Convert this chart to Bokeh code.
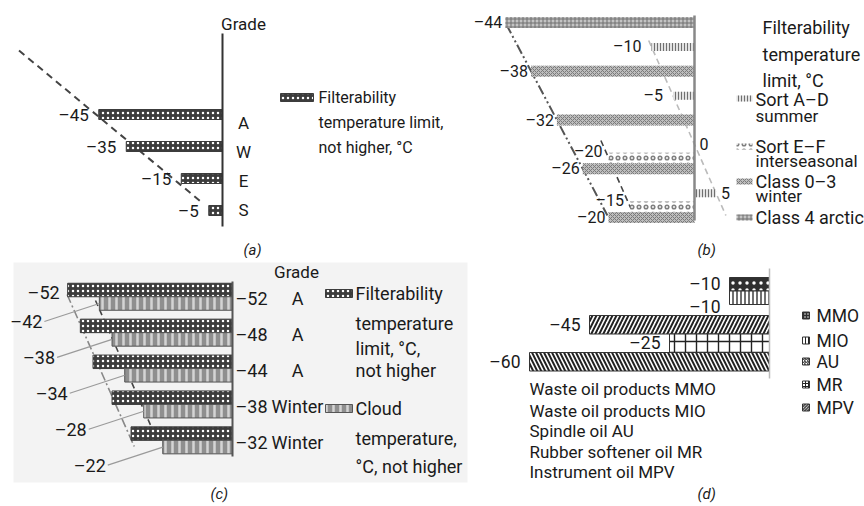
import numpy as np
from bokeh.plotting import figure
from bokeh.layouts import column, row
from bokeh.models import Range1d
from bokeh.core.properties import value
from bokeh.embed import file_html
from bokeh.resources import INLINE

FONT = "Roboto"
INK = "#1a1a1a"

# ---------------- data ----------------
# (a) filterability limit by grade
a_grades = ["A", "W", "E", "S"]
a_filter = [-45, -35, -15, -5]

# (b) filterability limit by fuel sort / class
b_arctic = [-44]
b_winter = [-38, -32, -26, -20]
b_summer = [-10, -5, 0, 5]
b_interseasonal = [-20, -15]

# (c) filterability and cloud temperatures
c_grades = ["A", "A", "A", "Winter", "Winter"]
c_filter = [-52, -48, -44, -38, -32]
c_cloud = [-42, -38, -34, -28, -22]

# (d) oil products
d_codes = ["MMO", "MIO", "AU", "MR", "MPV"]
d_names = ["Waste oil products MMO", "Waste oil products MIO", "Spindle oil AU",
           "Rubber softener oil MR", "Instrument oil MPV"]
d_filter = [-10, -10, -45, -25, -60]


def fmt(v):
    return f"\u2013{abs(v)}" if v < 0 else f"{v}"


def panel(width, height, axis_px, scale):
    p = figure(width=width, height=height,
               x_range=Range1d(-axis_px / scale, (width - axis_px) / scale),
               y_range=Range1d(height, 0),
               output_backend="svg", toolbar_location=None, title=None,
               x_axis_location=None, y_axis_location=None, min_border=0)
    p.grid.visible = False
    p.outline_line_color = None
    p.background_fill_color = "white"
    p.border_fill_color = "white"

    def to_x(px):
        return (px - axis_px) / scale
    return p, to_x


def text(p, xs, ys, labels, size=17, align="left", baseline="middle",
         color=INK, style="normal", x_offset=0, y_offset=0):
    p.text(x=list(xs), y=list(ys), text=list(labels),
           text_font=value(FONT), text_font_size=f"{size}px",
           text_align=align, text_baseline=baseline, text_color=color,
           text_font_style=style, x_offset=x_offset, y_offset=y_offset)


def trend(p, ys, vals, y_from, y_to, **kw):
    k, b0 = np.polyfit(ys, vals, 1)
    yy = np.array([y_from, y_to], dtype=float)
    p.line(k * yy + b0, yy, **kw)


CHECKER = dict(fill_color="#3c3c3c", hatch_pattern="dot", hatch_color="white",
               hatch_scale=5, hatch_weight=4, line_color="#3c3c3c")
CLOUD = dict(fill_color="#8f8f8f", hatch_pattern="vertical_line", hatch_color="#d4d4d4",
             hatch_scale=7, hatch_weight=2.5, line_color="#555555")

# ---------------- (a) ----------------
pa, XA = panel(460, 258, 222, 2.75)
a_y = [114 + 32 * i for i in range(len(a_filter))]
trend(pa, a_y, a_filter, 50, 203, line_color="#444444", line_width=2, line_dash="7 5")
pa.hbar(y=a_y, left=a_filter, right=0, height=10, **CHECKER)
pa.segment(x0=[0], y0=[33], x1=[0], y1=[226], line_color="#333333", line_width=2)
text(pa, a_filter, a_y, [fmt(v) for v in a_filter], align="right", x_offset=-10)
text(pa, [XA(243)] * 4, [122 + 29 * i for i in range(4)], a_grades, align="center")
text(pa, [XA(243)], [23], ["Grade"], align="center")
pa.quad(left=[XA(280)], right=[XA(313)], top=[93], bottom=[101], **CHECKER)
text(pa, [XA(318)] * 3, [97, 122, 147],
     ["Filterability", "temperature limit,", "not higher, \u00b0C"], size=16)
text(pa, [XA(243)], [249], ["(a)"], style="italic", size=15)

# ---------------- (b) ----------------
pb, XB = panel(404, 258, 234, 4.3)
R, TOP = 48.75, 22
y_arctic = [TOP]
y_winter = [TOP + R * (k + 1) for k in range(len(b_winter))]
y_summer = [TOP + R * (k + 0.5) for k in range(len(b_summer))]
y_inter = [TOP + R * k - 11 for k in (3, 4)]

trend(pb, y_arctic + y_winter, b_arctic + b_winter, 24, 215,
      line_color="#555555", line_width=2, line_dash="10 3 2 3 2 3")
trend(pb, y_inter, b_interseasonal, 140, 213,
      line_color="#444444", line_width=1.6, line_dash="6 4")
trend(pb, y_summer, b_summer, 40, 215,
      line_color="#bbbbbb", line_width=1.6, line_dash="6 4")

S_ARCTIC = dict(fill_color="#c4c4c4", hatch_pattern="cross", hatch_color="#707070",
                hatch_scale=4, hatch_weight=1, line_color=None)
S_WINTER = dict(fill_color="#bdbdbd", hatch_pattern="diagonal_cross", hatch_color="#7a7a7a",
                hatch_scale=4, hatch_weight=1, line_color=None)
S_SUMMER = dict(fill_color="#e2e2e2", hatch_pattern="vertical_line", hatch_color="#707070",
                hatch_scale=3, hatch_weight=1, line_color=None)
S_INTER = dict(fill_color="white", hatch_pattern="ring", hatch_color="#808080",
               hatch_scale=7, hatch_weight=1.6, line_color=None)

pb.hbar(y=y_arctic, left=b_arctic, right=0, height=11, **S_ARCTIC)
pb.hbar(y=y_winter, left=b_winter, right=0, height=11, **S_WINTER)
pb.hbar(y=y_summer, left=b_summer, right=0, height=8, **S_SUMMER)
pb.hbar(y=y_inter, left=b_interseasonal, right=0, height=10, **S_INTER)
pb.segment(x0=[0], y0=[15], x1=[0], y1=[220], line_color="#888888", line_width=2.5)

text(pb, b_arctic + b_winter, y_arctic + y_winter,
     [fmt(v) for v in b_arctic + b_winter], align="right", x_offset=-3, size=16)
text(pb, b_interseasonal, y_inter, [fmt(v) for v in b_interseasonal],
     align="right", x_offset=-6, y_offset=-6, size=16)
neg = [(v, y) for v, y in zip(b_summer, y_summer) if v < 0]
pos = [(v, y) for v, y in zip(b_summer, y_summer) if v >= 0]
text(pb, [v for v, _ in neg], [y for _, y in neg], [fmt(v) for v, _ in neg],
     align="right", x_offset=-10, size=16)
text(pb, [v for v, _ in pos], [y for _, y in pos], [fmt(v) for v, _ in pos],
     align="left", x_offset=5, size=16)

text(pb, [XB(302)] * 3, [27, 54, 80], ["Filterability", "temperature", "limit, \u00b0C"],
     size=18)
leg_y = [98, 146, 181, 217]
for st, yy in zip([S_SUMMER, S_INTER, S_WINTER, S_ARCTIC], leg_y):
    pb.quad(left=[XB(276)], right=[XB(292)], top=[yy - 3], bottom=[yy + 3], **st)
text(pb, [XB(295)] * 4, [99, 146, 181, 217],
     ["Sort A\u2013D", "Sort E\u2013F", "Class 0\u20133", "Class 4 arctic"], size=18)
text(pb, [XB(295)] * 3, [115, 160, 195], ["summer", "interseasonal", "winter"], size=17)
text(pb, [XB(237)], [249], ["(b)"], style="italic", size=15)

# ---------------- (c) ----------------
pc, XC = panel(470, 248, 232, 3.17)
pc.quad(left=[XC(13)], right=[XC(467)], top=[4], bottom=[224],
        fill_color="#f3f3f3", line_color=None)
c_fy = [31.5 + 35.9 * i for i in range(len(c_filter))]
c_cy = [y + 13.5 for y in c_fy]

trend(pc, c_fy, c_filter, 36, 188, line_color="#888888", line_width=1.6,
      line_dash="9 3 2 3")
trend(pc, c_cy, c_cloud, 42, 172, line_color="#444444", line_width=1.6, line_dash="6 4")

pc.hbar(y=c_fy, left=c_filter, right=0, height=13.5, **CHECKER)
pc.hbar(y=c_cy, left=c_cloud, right=0, height=13.5, **CLOUD)
pc.segment(x0=[0], y0=[23], x1=[0], y1=[198], line_color="#555555", line_width=2)

lead = 55 / 3.17
pc.segment(x0=[v - lead for v in c_cloud], y0=[y + 18 for y in c_cy],
           x1=c_cloud, y1=c_cy, line_color="#9a9a9a", line_width=1.2)
text(pc, c_cloud, [y + 18 for y in c_cy], [fmt(v) for v in c_cloud],
     align="right", x_offset=-57, size=18)
text(pc, [c_filter[0]], [c_fy[0] + 2], [fmt(c_filter[0])], align="right", x_offset=-8,
     size=18)
text(pc, [0] * len(c_filter), [y + 8.5 for y in c_fy], [fmt(v) for v in c_filter],
     align="left", x_offset=3, size=18)
text(pc, [XC(297)] * len(c_grades), [y + 8.5 for y in c_fy], c_grades, align="center", size=18)
text(pc, [XC(296)], [13], ["Grade"], align="center", size=17)

pc.quad(left=[XC(325)], right=[XC(352)], top=[31], bottom=[39], **CHECKER)
pc.quad(left=[XC(325)], right=[XC(352)], top=[146], bottom=[154], **CLOUD)
text(pc, [XC(355)] * 4, [35, 65, 90, 112],
     ["Filterability", "temperature", "limit, \u00b0C,", "not higher"], size=18)
text(pc, [XC(355)] * 3, [150, 180, 208],
     ["Cloud", "temperature,", "\u00b0C, not higher"], size=18)
text(pc, [XC(210)], [235], ["(c)"], style="italic", size=15)

# ---------------- (d) ----------------
pd_, XD = panel(394, 248, 299, 4.0)
d_h = [13.5, 13.5, 18.5, 18.5, 18.5]
d_y = [25.75, 39.25, 66.25, 84.75, 103.25]
D_STYLES = [
    dict(fill_color="#303030", hatch_pattern="dot", hatch_color="white",
         hatch_scale=7, hatch_weight=4, line_color="#333333"),
    dict(fill_color="white", hatch_pattern="vertical_line", hatch_color="#222222",
         hatch_scale=4, hatch_weight=1.3, line_color="#333333"),
    dict(fill_color="white", hatch_pattern="right_diagonal_line", hatch_color="#222222",
         hatch_scale=8, hatch_weight=2, line_color="#333333"),
    dict(fill_color="white", hatch_pattern="cross", hatch_color="#222222",
         hatch_scale=11, hatch_weight=1.4, line_color="#333333"),
    dict(fill_color="white", hatch_pattern="left_diagonal_line", hatch_color="#222222",
         hatch_scale=8, hatch_weight=2, line_color="#333333"),
]
for v, y, h, st in zip(d_filter, d_y, d_h, D_STYLES):
    pd_.hbar(y=[y], left=[v], right=0, height=h, **st)
pd_.segment(x0=[0], y0=[10], x1=[0], y1=[120], line_color="#bbbbbb", line_width=1.5)
d_dy = [0, 9, 0, 0, 0]
text(pd_, d_filter, [y + dy for y, dy in zip(d_y, d_dy)], [fmt(v) for v in d_filter],
     align="right", x_offset=-9, size=17.5)
text(pd_, [min(d_filter)] * len(d_names), [130, 152, 172, 193, 213], d_names, size=17)
leg_dy = [57, 82, 103, 126, 149]
for y, st in zip(leg_dy, D_STYLES):
    small = dict(st)
    small["hatch_scale"] = 3
    small["hatch_weight"] = 1
    pd_.quad(left=[XD(332)], right=[XD(339)], top=[y - 3.5], bottom=[y + 3.5], **small)
text(pd_, [XD(346)] * len(d_codes), leg_dy, d_codes, size=17.5)
text(pd_, [XD(227)], [235], ["(d)"], style="italic", size=15)

layout = column(row(pa, pb), row(pc, pd_))
open("out.html", "w").write(file_html(layout, INLINE))
